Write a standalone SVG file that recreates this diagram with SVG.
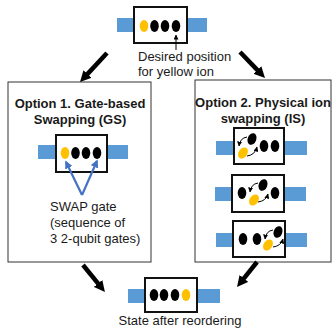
<svg xmlns="http://www.w3.org/2000/svg" width="336" height="330" viewBox="0 0 336 330">
<style>
.t{font-family:"Liberation Sans",Arial,sans-serif;font-size:13px;fill:#1a1a1a}
.b{font-weight:bold;text-anchor:middle}
.bar{fill:#5B9BD5}
.box{fill:#fff;stroke:#111;stroke-width:2}
.frame{fill:#fff;stroke:#333;stroke-width:1}
.k{fill:#000}
.y{fill:#FFC000}
.big{stroke:#000;stroke-width:4.5;fill:none}
.sm{stroke:#000;stroke-width:1;fill:none}
.bl{stroke:#4472C4;stroke-width:2.2;fill:none}
</style>
<defs>
<marker id="ah" viewBox="0 0 10 10" refX="2" refY="5" markerWidth="11" markerHeight="11" markerUnits="userSpaceOnUse" orient="auto"><path d="M0,0 L10,5 L0,10 z" fill="#000"/></marker>
<marker id="as" viewBox="0 0 10 10" refX="9" refY="5" markerWidth="5" markerHeight="5" markerUnits="userSpaceOnUse" orient="auto"><path d="M0,0 L10,5 L0,10 z" fill="#000"/></marker>
<marker id="ab" viewBox="0 0 10 10" refX="8" refY="5" markerWidth="8" markerHeight="8" markerUnits="userSpaceOnUse" orient="auto"><path d="M0,0 L10,5 L0,10 z" fill="#4472C4"/></marker>
</defs>

<g id="option1">
<rect class="frame" x="8" y="82" width="143" height="180"/>
<text class="t b" x="80" y="108">Option 1. Gate-based</text>
<text class="t b" x="80" y="124">Swapping (GS)</text>
</g>
<g id="option2">
<rect class="frame" x="195" y="80" width="136" height="182"/>
<text class="t b" x="263" y="107">Option 2. Physical ion</text>
<text class="t b" x="263" y="123">swapping (IS)</text>
</g>

<g id="initial">
<rect class="bar" x="117" y="18" width="90" height="14"/>
<rect class="box" x="134" y="7" width="53" height="36"/>
<ellipse class="y" cx="144" cy="26" rx="4.3" ry="6"/>
<ellipse class="k" cx="154.5" cy="26" rx="4.3" ry="6"/>
<ellipse class="k" cx="165" cy="26" rx="4.3" ry="6"/>
<ellipse class="k" cx="176" cy="26" rx="4.3" ry="6"/>
<text class="t" x="138" y="61">Desired position</text>
<text class="t" x="138" y="76">for yellow ion</text>
</g>

<g id="gs">
<rect class="bar" x="38" y="145" width="90" height="14"/>
<rect class="box" x="56" y="135" width="51" height="37"/>
<ellipse class="y" cx="65" cy="153" rx="4.3" ry="6"/>
<ellipse class="k" cx="75.5" cy="153" rx="4.3" ry="6"/>
<ellipse class="k" cx="86" cy="153" rx="4.3" ry="6"/>
<ellipse class="k" cx="97" cy="153" rx="4.3" ry="6"/>
<text class="t" x="50" y="211">SWAP gate</text>
<text class="t" x="50" y="227">(sequence of</text>
<text class="t" x="50" y="243">3 2-qubit gates)</text>
</g>

<g id="is1">
<rect class="bar" x="216" y="141" width="91" height="14"/>
<rect class="box" x="234" y="128" width="50" height="36"/>
<ellipse class="y" cx="243" cy="153" rx="4.3" ry="6" transform="rotate(35 243 153)"/>
<ellipse class="k" cx="252" cy="139" rx="4.3" ry="6" transform="rotate(20 252 139)"/>
<ellipse class="k" cx="264" cy="146" rx="4.3" ry="6"/>
<ellipse class="k" cx="275" cy="146" rx="4.3" ry="6"/>
<path class="sm" d="M247,137 Q240,138 239,146" marker-end="url(#as)"/>
<path class="sm" d="M247,156 Q255,155 257,147" marker-end="url(#as)"/>
</g>
<g id="is2">
<rect class="bar" x="215" y="187" width="91" height="14"/>
<rect class="box" x="232" y="175" width="52" height="37"/>
<ellipse class="k" cx="242" cy="193" rx="4.3" ry="6"/>
<ellipse class="k" cx="263" cy="185" rx="4.3" ry="6" transform="rotate(20 263 185)"/>
<ellipse class="y" cx="254" cy="200" rx="4.3" ry="6" transform="rotate(35 254 200)"/>
<ellipse class="k" cx="275" cy="193" rx="4.3" ry="6"/>
<path class="sm" d="M258,183 Q251,184 250,192" marker-end="url(#as)"/>
<path class="sm" d="M258,202 Q266,201 268,194" marker-end="url(#as)"/>
</g>
<g id="is3">
<rect class="bar" x="216" y="233" width="91" height="14"/>
<rect class="box" x="233" y="221" width="52" height="36"/>
<ellipse class="k" cx="243" cy="239" rx="4.3" ry="6"/>
<ellipse class="k" cx="257" cy="239" rx="4.3" ry="6"/>
<ellipse class="k" cx="278" cy="232" rx="4.3" ry="6" transform="rotate(20 278 232)"/>
<ellipse class="y" cx="268" cy="245" rx="4.3" ry="6" transform="rotate(35 268 245)"/>
<path class="sm" d="M273,230 Q266,231 265,239" marker-end="url(#as)"/>
<path class="sm" d="M273,247 Q281,246 283,239" marker-end="url(#as)"/>
</g>

<g id="final">
<rect class="bar" x="128" y="289" width="92" height="14"/>
<rect class="box" x="145" y="278" width="52" height="34"/>
<ellipse class="k" cx="154" cy="295" rx="4.3" ry="6"/>
<ellipse class="k" cx="164" cy="295" rx="4.3" ry="6"/>
<ellipse class="k" cx="175" cy="295" rx="4.3" ry="6"/>
<ellipse class="y" cx="186" cy="295" rx="4.3" ry="6"/>
<text class="t" x="180" y="325" text-anchor="middle">State after reordering</text>
</g>

<g id="connectors">
<line class="big" x1="107" y1="53" x2="86" y2="75.6" marker-end="url(#ah)"/>
<line class="big" x1="240" y1="52" x2="258.9" y2="71.6" marker-end="url(#ah)"/>
<line class="big" x1="83" y1="265" x2="99.4" y2="285.2" marker-end="url(#ah)"/>
<line class="big" x1="257" y1="262" x2="242.5" y2="280.1" marker-end="url(#ah)"/>
<line class="sm" x1="176" y1="50" x2="176" y2="35" marker-end="url(#as)"/>
<path class="bl" d="M82,195 L66,162" marker-end="url(#ab)"/>
<path class="bl" d="M82,195 L97,161" marker-end="url(#ab)"/>
</g>
</svg>
